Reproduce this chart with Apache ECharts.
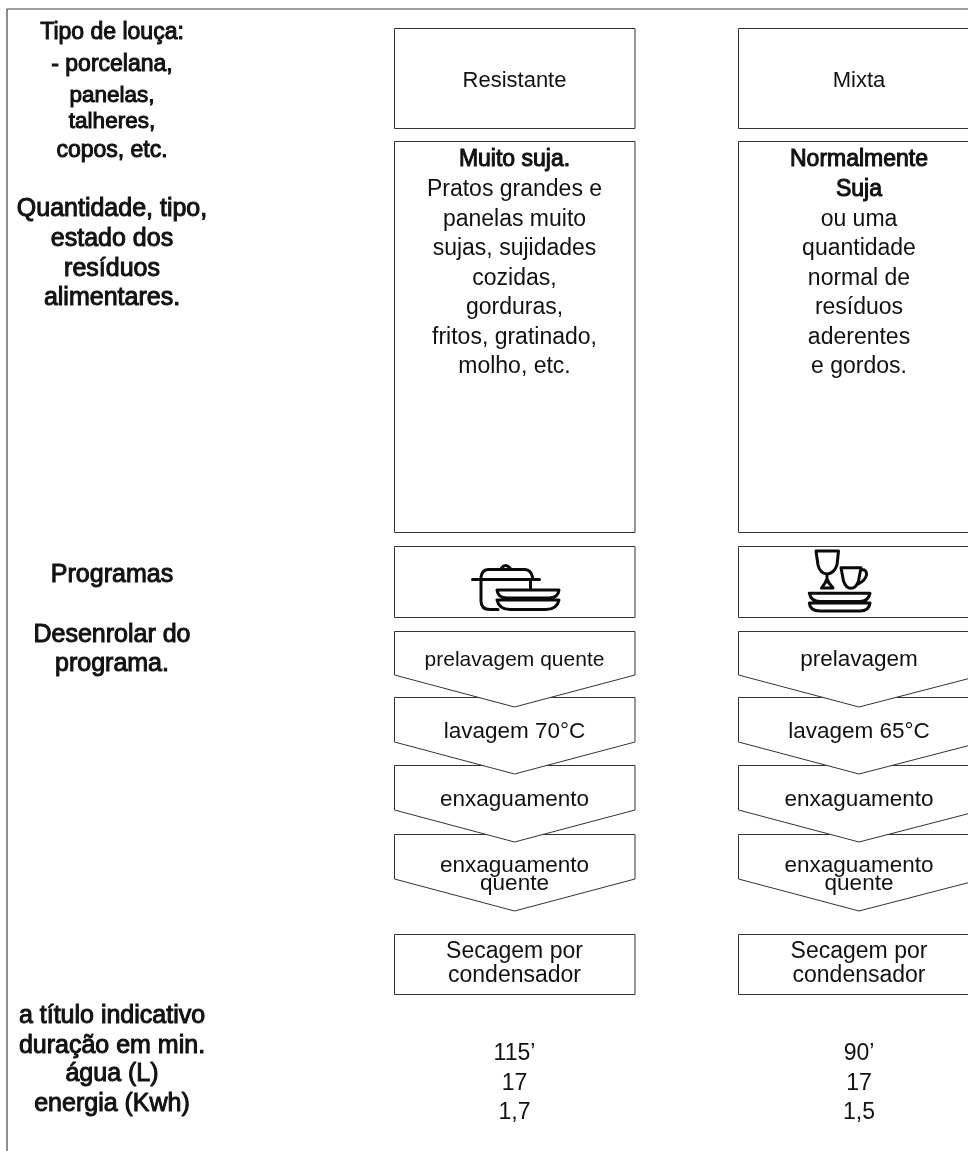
<!DOCTYPE html>
<html>
<head>
<meta charset="utf-8">
<style>html,body{margin:0;padding:0;background:#fff}#main{width:968px;height:1151px}</style>
<script src="https://cdn.jsdelivr.net/npm/echarts@6/dist/echarts.min.js"></script>
</head>
<body>
<div id="main"></div>
<script>
// textos do quadro
const leftLabels = ['Tipo de louça:', '- porcelana,', 'panelas,', 'talheres,', 'copos, etc.',
  'Quantidade, tipo,', 'estado dos', 'resíduos', 'alimentares.', 'Programas', 'Desenrolar do', 'programa.',
  'a título indicativo', 'duração em min.', 'água (L)', 'energia (Kwh)'];
const dishTypes = ['Resistante', 'Mixta'];
const soilHeads = [['Muito suja.'], ['Normalmente', 'Suja']];
const soilTexts = [
  ['Pratos grandes e', 'panelas muito', 'sujas, sujidades', 'cozidas,', 'gorduras,', 'fritos, gratinado,', 'molho, etc.'],
  ['ou uma', 'quantidade', 'normal de', 'resíduos', 'aderentes', 'e gordos.']
];
const steps = [
  ['prelavagem quente', 'lavagem 70°C', 'enxaguamento', 'enxaguamento\nquente'],
  ['prelavagem', 'lavagem 65°C', 'enxaguamento', 'enxaguamento\nquente']
];
const drying = ['Secagem por\ncondensador', 'Secagem por\ncondensador'];
const durations = ['115’', '90’'];
const water = ['17', '17'];
const energy = ['1,7', '1,5'];

// geometria
const colX = [394, 738];
const colW = [240.5, 244];
const colCenter = [514.5, 859];
const boxRows = [[28, 100], [141, 391], [546, 71], [934, 60]];
const chevrons = [[631, 44, 76], [697, 45, 77], [765, 45, 77], [834, 45, 77]];
const stepY = [660, 732, 800, 875];
const leftY = [33, 65, 96, 122, 151, 209, 239, 269, 298, 575, 635, 664, 1016, 1046, 1074, 1104];
const leftSize = [23, 23, 22.5, 22.5, 23, 25, 25, 25, 25, 25, 25, 25, 25, 25, 25, 25];
const soilY = [160, 190, 220, 249, 279, 308, 338, 367];
const potPath = 'M0 0M968 1151M472.5 579.5L539.5 579.5M481 577Q482 570 488 569.5L525 569.5Q531 570 532.5 577'
  + 'M501.5 568Q505.5 563 510 568M481 580L481 601Q481 609.5 490 609.5L498 609.5M530.5 580L530.5 589'
  + 'M497 590L559 590Q558 598 549 598L507 598Q498 598 497 590Z'
  + 'M497 600L559 600Q557 609.5 546 609.5L510 609.5Q499 609.5 497 600Z';
const dishPath = 'M0 0M968 1151M816 551L838.5 551L837 565Q834 573.5 827 574Q820 573.5 818 565Z'
  + 'M827 575L827 582M821.5 588L833 588L829 583L827 579L825 583Z'
  + 'M841 567.7L861 567.7L858.5 581Q856 588.3 851 588.3Q846 588.3 843.5 581Z'
  + 'M861 570Q867 569 866.5 575Q865 581 858 584'
  + 'M809.3 593.3L870 593.3Q868 601.5 860 601.5L820 601.5Q811 601.5 809.3 593.3Z'
  + 'M809.3 603L870 603Q869 611 860 611L820 611Q810 611 809.3 603Z';

const textFont = 'Liberation Sans';
const lineColor = '#333';

const shapes = [];   // caixas e setas
const texts = [];    // todos os textos

function addText(x, y, text, bold, size, lineHeight) {
  texts.push({ x, y, text, bold: bold ? 1 : 0, size: size || 23, lineHeight: lineHeight || 25 });
}

leftLabels.forEach((t, i) => addText(112, leftY[i], t, true, leftSize[i]));

colX.forEach((x, c) => {
  const w = colW[c];
  const cx = colCenter[c];
  // as setas de baixo primeiro: cada seta tapa o topo da seguinte
  for (let i = chevrons.length - 1; i >= 0; i--) {
    const [top, side, tip] = chevrons[i];
    shapes.push({ kind: 'chevron', x, w, top, side, tip, cx });
    const size = (c === 0 && i === 0) ? 21 : 22.5;
    addText(cx, stepY[i], steps[c][i], false, size, 18);
  }
  boxRows.forEach(([top, h]) => shapes.push({ kind: 'box', x, w, top, h }));
  addText(cx, 81, dishTypes[c], false, 22);
  const head = soilHeads[c];
  head.forEach((t, i) => addText(cx, soilY[i], t, true));
  soilTexts[c].forEach((t, i) => addText(cx, soilY[i + head.length], t));
  addText(cx, 964, drying[c], false, 23, 24);
  addText(cx, 1054, durations[c]);
  addText(cx, 1084, water[c]);
  addText(cx, 1113, energy[c]);
});

function renderShape(params, api) {
  const s = shapes[params.dataIndex];
  const style = { fill: '#fff', stroke: lineColor, lineWidth: 1 };
  const p = (x, y) => api.coord([x, y]);
  if (s.kind === 'box') {
    const a = p(s.x, s.top), b = p(s.x + s.w, s.top + s.h);
    return { type: 'rect', shape: { x: a[0] + 0.5, y: a[1] + 0.5, width: b[0] - a[0], height: b[1] - a[1] }, style };
  }
  return {
    type: 'polygon',
    shape: {
      points: [
        p(s.x + 0.5, s.top + 0.5), p(s.x + s.w + 0.5, s.top + 0.5), p(s.x + s.w + 0.5, s.top + s.side),
        p(s.cx, s.top + s.tip), p(s.x + 0.5, s.top + s.side)
      ]
    },
    style
  };
}

function renderText(params, api) {
  const t = texts[params.dataIndex];
  const c = api.coord([t.x, t.y]);
  return {
    type: 'text',
    x: c[0],
    y: c[1],
    style: {
      text: t.text,
      align: 'center',
      verticalAlign: 'middle',
      fontFamily: textFont,
      fontSize: t.size,
      lineHeight: t.lineHeight,
      fill: '#111',
      stroke: t.bold ? '#111' : null,
      lineWidth: t.bold ? 1 : 0
    }
  };
}

function renderIcon(params, api) {
  const a = api.coord([0, 0]), b = api.coord([968, 1151]);
  const d = params.dataIndex === 0 ? potPath : dishPath;
  return {
    type: 'path',
    shape: { pathData: d, x: a[0], y: a[1], width: b[0] - a[0], height: b[1] - a[1], layout: 'cover' },
    style: { fill: 'none', stroke: '#0a0a0a', lineWidth: 3, lineCap: 'round', lineJoin: 'round' }
  };
}

const myChart = echarts.init(document.getElementById('main'), null, { renderer: 'canvas' });
myChart.setOption({
  animation: false,
  backgroundColor: '#fff',
  tooltip: { show: false },
  grid: { left: 0, right: 0, top: 0, bottom: 0 },
  xAxis: { type: 'value', min: 0, max: 968, show: false },
  yAxis: { type: 'value', min: 0, max: 1151, inverse: true, show: false },
  series: [
    {
      type: 'line', silent: true, symbol: 'none', z: 1,
      lineStyle: { color: '#444', width: 1.2 },
      data: [[968, 9], [7, 9], [7, 1151]]
    },
    { type: 'custom', silent: true, z: 2, renderItem: renderShape, data: shapes.map((s, i) => [i]), encode: { x: 0, y: 0 } },
    { type: 'custom', silent: true, z: 3, renderItem: renderIcon, data: [[0], [1]], encode: { x: 0, y: 0 } },
    { type: 'custom', silent: true, z: 4, renderItem: renderText, data: texts.map((t, i) => [i]), encode: { x: 0, y: 0 } }
  ]
});
</script>
</body>
</html>
